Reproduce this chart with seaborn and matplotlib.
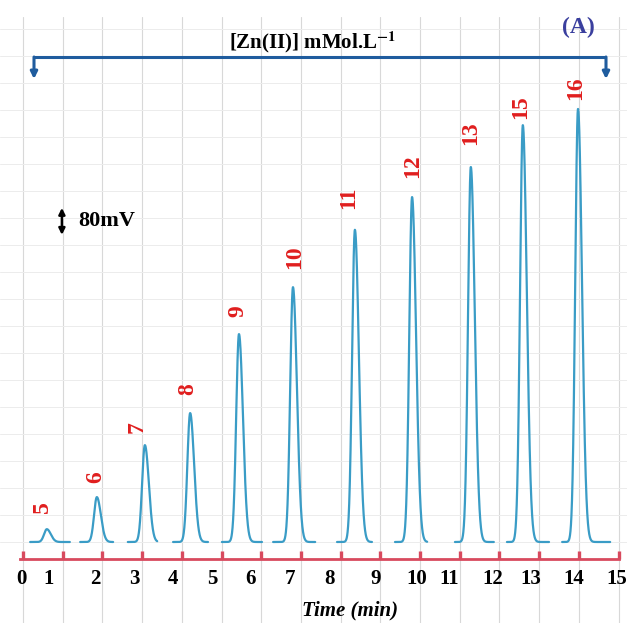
import numpy as np
import pandas as pd
import matplotlib
matplotlib.use("Agg")
import matplotlib.pyplot as plt
import seaborn as sns

# ---------------- data ----------------
peak_labels = ["5", "6", "7", "8", "9", "10", "11", "12", "13", "15", "16"]
peak_time = [0.60, 1.86, 3.07, 4.21, 5.44, 6.80, 8.36, 9.80, 11.28, 12.59, 13.98]      # min
peak_height = [38, 133, 287, 382, 616, 755, 925, 1022, 1111, 1235, 1283]               # mV
seg_start = [0.18, 1.44, 2.64, 3.78, 5.01, 6.30, 7.91, 9.37, 10.88, 12.19, 13.58]
seg_end = [1.18, 2.27, 3.38, 4.66, 6.02, 7.36, 8.79, 10.18, 11.86, 13.25, 14.79]

tick_labels = [str(i) for i in range(16)]
tick_label_pos = [-0.03, 0.65, 1.81, 2.80, 3.78, 4.76, 5.74, 6.73, 7.71, 8.87,
                  9.92, 10.73, 11.84, 12.80, 13.88, 14.96]
red_ticks = list(range(16))

# ---------------- build traces ----------------
sig_l, sig_r = 0.07, 0.10
rows = []
for lab, t0, h, a, b in zip(peak_labels, peak_time, peak_height, seg_start, seg_end):
    t = np.linspace(a, b, 600)
    s = np.where(t < t0, sig_l, sig_r)
    y = h * np.exp(-0.5 * ((t - t0) / s) ** 2)
    rows.append(pd.DataFrame({"time": t, "signal": y, "peak": lab}))
df = pd.concat(rows, ignore_index=True)

# ---------------- style ----------------
sns.set_style("white")
plt.rcParams["font.family"] = ["Liberation Serif", "DejaVu Serif"]
plt.rcParams["mathtext.fontset"] = "stix"
plt.rcParams["text.color"] = "black"
plt.rcParams["axes.labelcolor"] = "black"
plt.rcParams["xtick.color"] = "black"

W, H = 627, 623
fig = plt.figure(figsize=(W / 100, H / 100), dpi=100)
ax_bottom_px = 559
ax = fig.add_axes([0, (H - ax_bottom_px) / H, 1, ax_bottom_px / H])

px_per_min = 39.7
x0_px = 23
mv_per_px = 80 / 27.0
base_px = 542
ax.set_xlim((0 - x0_px) / px_per_min, (W - x0_px) / px_per_min)
ax.set_ylim((base_px - ax_bottom_px) * mv_per_px, base_px * mv_per_px)

# chart-paper grid
ax.set_yticks(np.arange(0, 1600, 80))
ax.yaxis.grid(True, color="#ececec", lw=0.7)
ax.tick_params(axis="y", left=False, labelleft=False)
for xv in red_ticks:
    ax.axvline(xv, ymin=-0.115, ymax=0.97, color="#d8d8d8", lw=0.8, clip_on=False, zorder=0)

# peaks
sns.lineplot(data=df, x="time", y="signal", units="peak", estimator=None, sort=False,
             color="#3a9cc6", lw=1.6, ax=ax, legend=False, zorder=3)

# peak labels
lab_dx = [-0.12, -0.03, -0.2, -0.05, -0.02, 0.05, -0.15, 0.02, 0.0, -0.05, -0.05]
lab_dy = [22, 20, 18, 24, 23, 30, 32, 31, 34, 18, 21]
for lab, t0, h, dx, dy in zip(peak_labels, peak_time, peak_height, lab_dx, lab_dy):
    ax.text(t0 + dx, h + dy * mv_per_px, lab, rotation=90, ha="center", va="center",
            color="#e01e1e", fontsize=17, fontweight="bold", zorder=4)

# red time axis
for sp in ["left", "right", "top"]:
    ax.spines[sp].set_visible(False)
ax.spines["bottom"].set_color("#d84a5e")
ax.spines["bottom"].set_linewidth(2)
ax.spines["bottom"].set_bounds(-0.07, 15.0)
ax.set_xticks(tick_label_pos)
ax.set_xticklabels(tick_labels, fontsize=15, fontweight="bold")
ax.set_xticks(red_ticks, minor=True)
ax.tick_params(axis="x", which="major", bottom=True, length=0, pad=7)
ax.tick_params(axis="x", which="minor", bottom=True, direction="in", length=6, width=2.4,
               color="#d84a5e")
ax.set_xlabel("Time (min)", fontsize=15, fontweight="bold", fontstyle="italic")
ax.xaxis.set_label_coords(350 / W, (ax_bottom_px - 610) / ax_bottom_px)
ax.xaxis.label.set_va("center")
ax.set_ylabel("")

# 80 mV scale arrow
ax.annotate("", xy=(0.98, 910), xytext=(0.98, 990),
            arrowprops=dict(arrowstyle="<|-|>", color="black", lw=1.8, mutation_scale=9,
                            shrinkA=0, shrinkB=0))
ax.text(1.40, 950, "80mV", ha="left", va="center", fontsize=16, fontweight="bold")

# top bracket
blue = "#1f5c9e"
yb = (base_px - 57) * mv_per_px
ytip = (base_px - 79) * mv_per_px
xl, xr = (34 - x0_px) / px_per_min, (606 - x0_px) / px_per_min
ax.plot([xl, xr], [yb, yb], color=blue, lw=2.2, solid_capstyle="butt")
for xv in (xl, xr):
    ax.annotate("", xy=(xv, ytip), xytext=(xv, yb),
                arrowprops=dict(arrowstyle="-|>", color=blue, lw=2.2, mutation_scale=10,
                                shrinkA=0, shrinkB=0))
ax.text(7.28, (base_px - 42) * mv_per_px, r"[Zn(II)] mMol.L$^{\mathbf{-1}}$",
        ha="center", va="center", fontsize=15, fontweight="bold")
ax.text(13.98, (base_px - 27) * mv_per_px, "(A)", ha="center", va="center",
        fontsize=17, fontweight="bold", color="#3a3f9e")

fig.savefig("out.png", dpi=100)
